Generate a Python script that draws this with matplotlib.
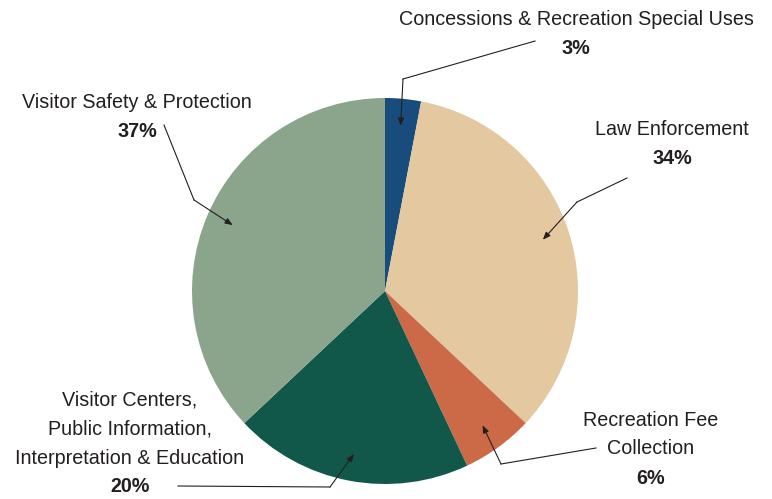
import matplotlib

matplotlib.use("Agg")
import matplotlib.pyplot as plt
import numpy as np

# Budget shares, clockwise from 12 o'clock
categories = [
    "Concessions & Recreation Special Uses",
    "Law Enforcement",
    "Recreation Fee\nCollection",
    "Visitor Centers,\nPublic Information,\nInterpretation & Education",
    "Visitor Safety & Protection",
]
shares = [3, 34, 6, 20, 37]
colors = ["#174c7c", "#e4c89f", "#cc6a48", "#12584a", "#8aa58b"]

# Label layout (pixel space, y up): text anchor and leader-line elbow
text_pos = [(576, 480), (672, 370), (651, 79), (130, 99), (137, 397)]
line_start = [(535, 458), (627, 321), (596, 51), (178, 13), (164, 374)]
line_elbow = [(403, 420), (577, 297), (501, 35), (330, 12), (194, 299)]

W, H = 772, 499
CX, CY, R = 385, 208, 193
LINE_H = 29

plt.rcParams["font.family"] = ["Liberation Sans", "DejaVu Sans"]

fig = plt.figure(figsize=(W / 100, H / 100), dpi=100)
ax = fig.add_axes([0, 0, 1, 1])

wedges, _ = ax.pie(shares, colors=colors, startangle=90, counterclock=False,
                   center=(CX, CY), radius=R, frame=True,
                   wedgeprops=dict(linewidth=0))
ax.set_xlim(0, W)
ax.set_ylim(0, H)
ax.set_aspect("equal")
ax.axis("off")

for w, label, pct, tp, ls, le in zip(wedges, categories, shares,
                                      text_pos, line_start, line_elbow):
    lines = label.split("\n")
    x, y = tp
    for i, ln in enumerate(lines):
        ax.text(x, y - i * LINE_H, ln, ha="center", va="center",
                fontsize=14.2, color="#231f20")
    ax.text(x, y - len(lines) * LINE_H, f"{pct}%", ha="center", va="center",
            fontsize=14.2, fontweight="bold", color="#231f20")

    # arrow tip sits inside the wedge along its mid-angle
    mid = np.deg2rad((w.theta1 + w.theta2) / 2)
    tip = (CX + 0.86 * R * np.cos(mid), CY + 0.86 * R * np.sin(mid))
    ax.plot([ls[0], le[0]], [ls[1], le[1]], color="#231f20", lw=0.8)
    ax.annotate("", xy=tip, xytext=le,
                arrowprops=dict(arrowstyle="-|>,head_length=0.45,head_width=0.18",
                                color="#231f20", lw=0.8, shrinkA=0, shrinkB=0))

fig.savefig("out.png", dpi=100)
